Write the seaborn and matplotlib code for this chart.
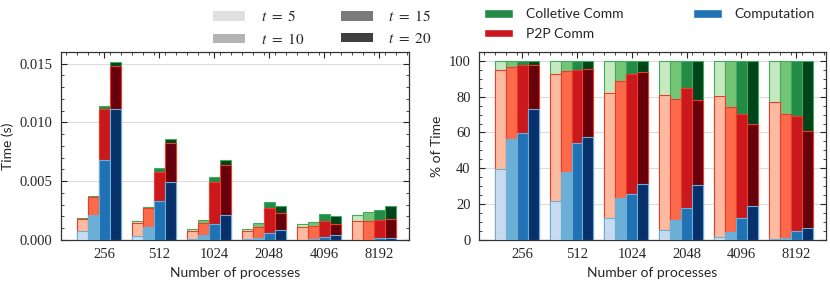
import numpy as np
import pandas as pd
import matplotlib
matplotlib.use('Agg')
import matplotlib.pyplot as plt
from matplotlib.patches import Patch
from matplotlib.ticker import MultipleLocator
import seaborn as sns

# ---- data (time in ms) ----
procs = ['256', '512', '1024', '2048', '4096', '8192']
steps = ['5', '10', '15', '20']

# one row per process count, one column per t
comp = [
    [0.73, 2.10, 6.80, 11.10],
    [0.35, 1.08, 3.30, 4.95],
    [0.11, 0.39, 1.38, 2.12],
    [0.05, 0.16, 0.58, 0.89],
    [0.02, 0.07, 0.27, 0.39],
    [0.01, 0.02, 0.13, 0.19],
]
p2p = [
    [1.02, 1.52, 4.35, 3.72],
    [1.12, 1.60, 2.48, 3.30],
    [0.63, 1.08, 3.55, 4.28],
    [0.68, 0.96, 2.14, 1.39],
    [1.05, 1.08, 1.31, 0.95],
    [1.61, 1.63, 1.61, 1.58],
]
coll = [
    [0.09, 0.12, 0.28, 0.35],
    [0.12, 0.16, 0.31, 0.37],
    [0.16, 0.19, 0.40, 0.44],
    [0.17, 0.30, 0.48, 0.64],
    [0.26, 0.40, 0.66, 0.73],
    [0.48, 0.70, 0.78, 1.15],
]

blues = ['#c6dbef', '#6baed6', '#2171b5', '#08306b']
reds = ['#fcbba1', '#fb6a4a', '#cb181d', '#67000d']
greens = ['#c7e9c0', '#74c476', '#238b45', '#00441b']
greys = ['#e0e0e0', '#b4b4b4', '#7a7a7a', '#404040']

# ---- long table ----
rows = []
for i, p in enumerate(procs):
    for j, t in enumerate(steps):
        rows.append(dict(procs=p, t=t, comp=comp[i][j] / 1000,
                         p2p=p2p[i][j] / 1000, coll=coll[i][j] / 1000))
df = pd.DataFrame(rows)
df['lvl2'] = df['comp'] + df['p2p']
df['total'] = df['lvl2'] + df['coll']
df['comp_pct'] = df['comp'] / df['total'] * 100
df['lvl2_pct'] = df['lvl2'] / df['total'] * 100
df['total_pct'] = 100.0

sns.set_style('ticks', {
    'xtick.direction': 'in', 'ytick.direction': 'in',
    'xtick.top': True, 'ytick.right': True,
})
plt.rcParams['font.family'] = ['Lato', 'DejaVu Sans']
plt.rcParams['mathtext.fontset'] = 'stix'

fig = plt.figure(figsize=(8.3, 2.82), dpi=100)
ax1 = fig.add_axes([0.0735, 0.149, 0.419, 0.667])
ax2 = fig.add_axes([0.577, 0.149, 0.418, 0.667])


def stacked(ax, cols):
    # draw cumulative heights back to front so they look stacked
    layers = [(cols[2], greens, '#41ab5d'), (cols[1], reds, '#ef3b2c'),
              (cols[0], blues, '#6baed6')]
    for col, pal, ec in layers:
        sns.barplot(data=df, x='procs', y=col, hue='t', order=procs,
                    hue_order=steps, palette=dict(zip(steps, pal)),
                    saturation=1, errorbar=None, edgecolor=ec, linewidth=0.8,
                    legend=False, ax=ax, zorder=3)


stacked(ax1, ['comp', 'lvl2', 'total'])
stacked(ax2, ['comp_pct', 'lvl2_pct', 'total_pct'])

serif = 'Liberation Serif'
for ax in (ax1, ax2):
    ax.set_xlim(-0.69, 5.64)
    ax.set_xticks(np.arange(len(procs)) + 0.1)
    ax.set_xticklabels(procs, fontfamily=serif, fontsize=10.5)
    ax.xaxis.set_minor_locator(MultipleLocator(0.2))
    ax.tick_params(axis='x', which='both', bottom=False, top=True)
    ax.tick_params(which='major', length=4, width=0.8, pad=6)
    ax.tick_params(which='minor', length=2, width=0.6)
    ax.grid(axis='y', color='#dcdcdc', linewidth=0.8, zorder=0)
    ax.set_axisbelow(True)
    ax.set_xlabel('Number of processes', fontsize=10)
    for s in ax.spines.values():
        s.set_linewidth(0.9)
        s.set_color('#333333')

ax1.set_ylim(0, 0.016)
ax1.yaxis.set_minor_locator(MultipleLocator(0.001))
ax1.set_yticks([0, 0.005, 0.010, 0.015])
ax1.set_yticklabels(['0.000', '0.005', '0.010', '0.015'], fontfamily=serif, fontsize=10.5)
ax1.set_ylabel('Time (s)', fontsize=10)

ax2.set_ylim(0, 105)
ax2.yaxis.set_minor_locator(MultipleLocator(5))
ax2.set_yticks([0, 20, 40, 60, 80, 100])
ax2.set_yticklabels(['0', '20', '40', '60', '80', '100'], fontfamily=serif, fontsize=10.5)
ax2.set_ylabel('% of Time', fontsize=10)

# legends
t_handles = [Patch(facecolor=c, edgecolor='none') for c in greys]
t_labels = [r'$t\ =\ %s$' % t for t in steps]
fig.legend(t_handles, t_labels, ncol=2, loc='upper left',
           bbox_to_anchor=(0.246, 1.0), frameon=False, fontsize=11,
           handlelength=2.1, handleheight=0.6, handletextpad=1.0,
           columnspacing=2.4, labelspacing=0.5, borderaxespad=0.2)

c_handles = [Patch(facecolor=greens[2]), Patch(facecolor=reds[2]),
             Patch(facecolor=blues[2])]
c_labels = ['Colletive Comm', 'P2P Comm', 'Computation']
fig.legend(c_handles, c_labels, ncol=2, loc='upper left',
           bbox_to_anchor=(0.573, 1.0), frameon=False, fontsize=10,
           handlelength=2.1, handleheight=0.6, handletextpad=0.9,
           columnspacing=5.0, labelspacing=0.55, borderaxespad=0.2)

fig.savefig('out.png', dpi=100)
